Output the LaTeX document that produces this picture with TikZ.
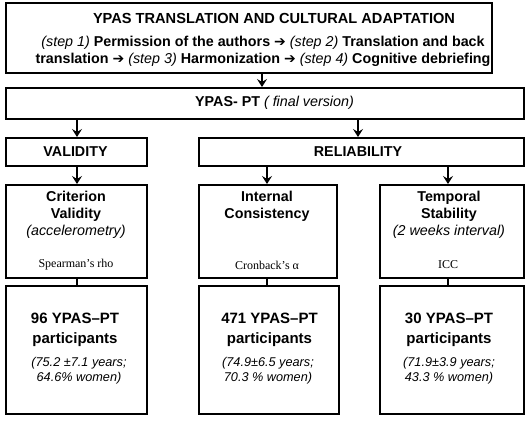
\documentclass[tikz,border=0pt]{standalone}
\usepackage{fontspec}
\setmainfont{Liberation Sans}
\newfontfamily\serifnote{Liberation Serif}
\newfontfamily\arrowfont{DejaVu Sans}
\usetikzlibrary{arrows.meta}
\newcommand\steparrow{{\arrowfont\fontsize{14}{14}\selectfont ➔}}
\begin{document}
\begin{tikzpicture}[x=1pt,y=-1pt,
  box/.style={draw, line width=1.7pt, anchor=north west, inner sep=0pt},
  arr/.style={line width=1.7pt, -{Stealth[length=8pt,width=10pt,inset=3pt]}},
  conn/.style={line width=1.7pt},
  txt/.style={align=center, inner sep=0pt, font=\fontsize{14.3}{17}\selectfont},
  big/.style={align=center, inner sep=0pt, font=\fontsize{15}{20}\selectfont\bfseries},
  ital/.style={align=center, inner sep=0pt, font=\fontsize{12.7}{15}\selectfont\itshape},
  note/.style={inner sep=0pt, font=\serifnote\fontsize{12}{13}\selectfont}]
\useasboundingbox (0,0) rectangle (529,421);

% boxes
\node[box, minimum width=486pt, minimum height=70pt] (top) at (5,2) {};
\node[box, minimum width=518pt, minimum height=31pt] (final) at (5,87) {};
\node[box, minimum width=141pt, minimum height=28pt] (valid) at (5,137) {};
\node[box, minimum width=325pt, minimum height=28pt] (reli) at (198,137) {};
\node[box, minimum width=141pt, minimum height=93pt] (crit) at (5,184) {};
\node[box, minimum width=138pt, minimum height=93pt] (intc) at (198,184) {};
\node[box, minimum width=144pt, minimum height=93pt] (temp) at (379,184) {};
\node[box, minimum width=141pt, minimum height=128pt] (p1) at (5,285) {};
\node[box, minimum width=140pt, minimum height=128pt] (p2) at (198,285) {};
\node[box, minimum width=144pt, minimum height=128pt] (p3) at (379,285) {};

% connector columns
\coordinate (c0) at (262,0);
\coordinate (c1) at (77,0);
\coordinate (c2) at (358,0);
\coordinate (c3) at (267,0);
\coordinate (c4) at (448,0);

\draw[arr] (c0 |- top.south) -- (c0 |- final.north);
\draw[arr] (c1 |- final.south) -- (c1 |- valid.north);
\draw[arr] (c2 |- final.south) -- (c2 |- reli.north);
\draw[arr] (c1 |- valid.south) -- (c1 |- crit.north);
\draw[arr] (c3 |- reli.south) -- (c3 |- intc.north);
\draw[arr] (c4 |- reli.south) -- (c4 |- temp.north);
\draw[conn] (c1 |- crit.south) -- (c1 |- p1.north);
\draw[conn] (c3 |- intc.south) -- (c3 |- p2.north);
\draw[conn] (c4 |- temp.south) -- (c4 |- p3.north);

% texts
\node[txt, font=\fontsize{14.6}{17}\selectfont\bfseries] (ttitle) at (274,18) {YPAS TRANSLATION AND CULTURAL ADAPTATION};
\node[txt] (tsteps) at (263,51.5) {\textit{(step 1)} \textbf{Permission of the authors} \steparrow\ \textit{(step 2)} \textbf{Translation and back}\\
\textbf{translation} \steparrow\ \textit{(step 3)} \textbf{Harmonization} \steparrow\ \textit{(step 4)} \textbf{Cognitive debriefing}};
\node[txt] (tfinal) at (274.5,102.5) {\textbf{YPAS- PT} \textit{( final version)}};
\node[txt, font=\fontsize{14.3}{17}\selectfont\bfseries] (tvalid) at (75.5,151.5) {VALIDITY};
\node[txt, font=\fontsize{14.3}{17}\selectfont\bfseries] (treli) at (358,151.5) {RELIABILITY};

\node[txt] (tcrit) at (76,215) {\textbf{Criterion}\\\textbf{Validity}\\\textit{(accelerometry)}};
\node[txt] (tintc) at (267,206.5) {\textbf{Internal}\\\textbf{Consistency}};
\node[txt] (ttemp) at (449,215) {\textbf{Temporal}\\\textbf{Stability}\\\textit{(2 weeks interval)}};

\node[note] (nsp) at (76,265) {Spearman’s rho};
\node[note] (ncr) at (267,265) {Cronback’s α};
\node[note] (nicc) at (448,265) {ICC};

\node[big] (b1) at (75,330) {96 YPAS–PT\\participants};
\node[ital] (i1) at (79,370.5) {(75.2 ±7.1 years;\\64.6\% women)};
\node[big] (b2) at (269.5,330) {471 YPAS–PT\\participants};
\node[ital] (i2) at (268,370.5) {(74.9±6.5 years;\\70.3 \% women)};
\node[big] (b3) at (449,330) {30 YPAS–PT\\participants};
\node[ital] (i3) at (449,370.5) {(71.9±3.9 years;\\43.3 \% women)};
\end{tikzpicture}
\end{document}
